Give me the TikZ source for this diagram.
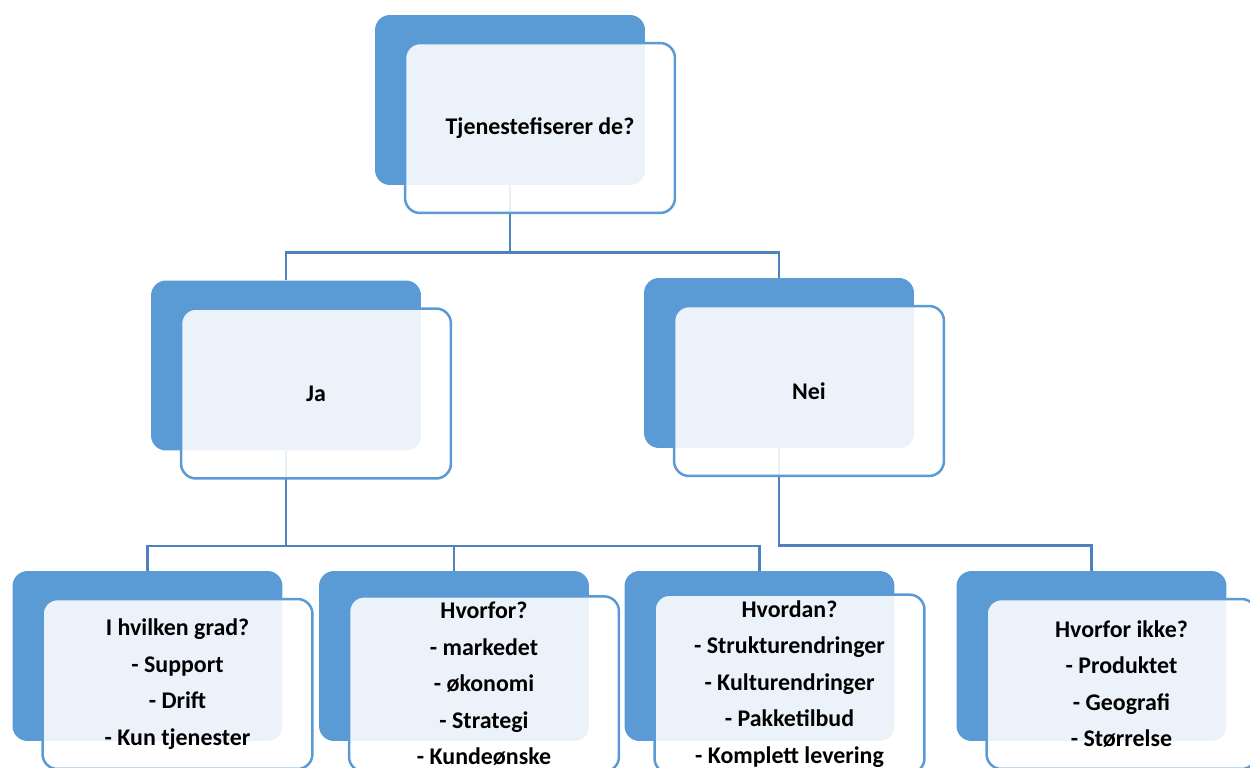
\documentclass[tikz,border=0pt]{standalone}
\usepackage{fontspec}
\setmainfont{Carlito}
\usetikzlibrary{positioning}
\definecolor{backblue}{HTML}{5B9BD5}
\definecolor{lineblue}{HTML}{4F81BD}

\begin{document}
\begin{tikzpicture}[x=0.02cm, y=-0.02cm, font=\fontsize{13.6}{20.8}\selectfont\bfseries]
\tikzset{
  back/.style={rectangle, rounded corners=0.3cm, fill=backblue, minimum width=5.4cm, minimum height=3.4cm, inner sep=0pt},
  front/.style={rectangle, rounded corners=0.3cm, draw=backblue, line width=0.05cm, fill=white, fill opacity=0.88, text opacity=1, minimum width=5.4cm, minimum height=3.4cm, align=center, xshift=0.6cm, yshift=-0.56cm},
  conn/.style={draw=lineblue, line width=0.05cm},
}
\useasboundingbox (0,0) rectangle (1250,767);
\clip (0,0) rectangle (1250,767);
% back boxes
\node[back] (top) at (510,100) {};
\node[back] (ja) at (286,365.5) {};
\node[back] (nei) at (779,363) {};
\node[back] (b1) at (147.5,656) {};
\node[back] (b2) at (454,656) {};
\node[back] (b3) at (759.5,656) {};
\node[back] (b4) at (1091.5,656) {};
% connectors
\draw[conn] (top.south) -- ++(0,67) -| (ja.north);
\draw[conn] (top.south) -- ++(0,67) -| (nei.north);
\draw[conn] (ja.south) -- ++(0,95) -| (b1.north);
\draw[conn] (ja.south) -- ++(0,95) -| (b2.north);
\draw[conn] (ja.south) -- ++(0,95) -| (b3.north);
\draw[conn] (nei.south) -- ++(0,97) -| (b4.north);
% front boxes
\node[front] (topf) at (top) {Tjenestefiserer de?};
\node[front] (jaf) at (ja) {Ja};
\node[front] (neif) at (nei) {Nei};
\node[front] (b1f) at (b1) {I hvilken grad?\\- Support\\- Drift\\- Kun tjenester};
\node[front] (b2f) at (b2) {Hvorfor?\\- markedet\\- økonomi\\- Strategi\\- Kundeønske};
\node[front] (b3f) at (b3) {Hvordan?\\- Strukturendringer\\- Kulturendringer\\- Pakketilbud\\- Komplett levering};
\node[front] (b4f) at (b4) {Hvorfor ikke?\\- Produktet\\- Geografi\\- Størrelse};
\end{tikzpicture}
\end{document}
